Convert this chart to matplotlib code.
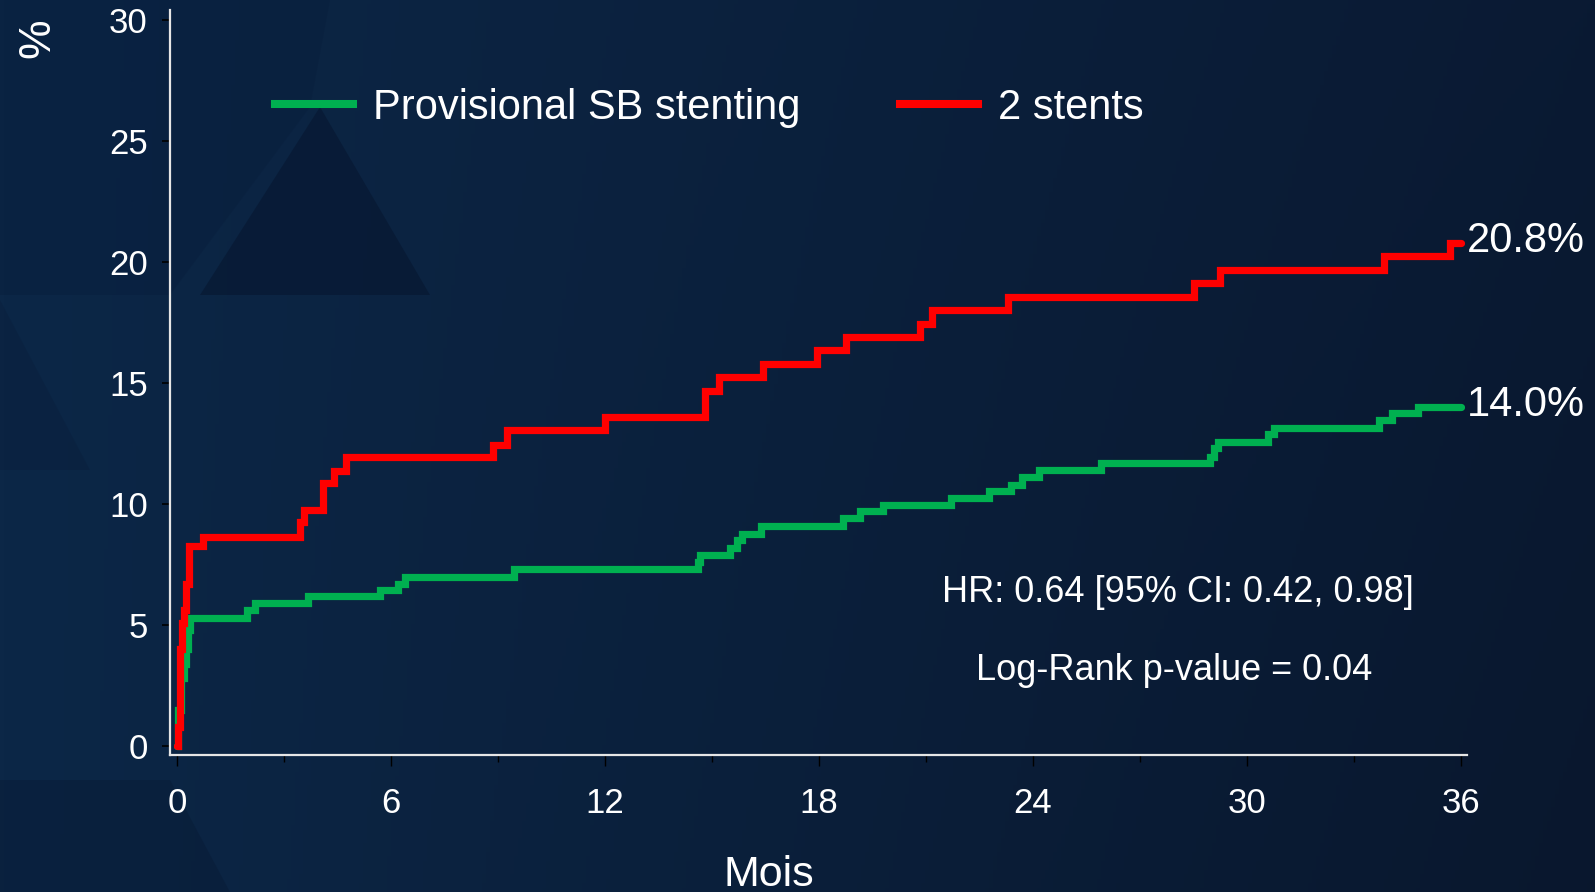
"""Cumulative incidence curves: provisional SB stenting vs 2 stents."""

import matplotlib

matplotlib.use("Agg")
import matplotlib.pyplot as plt
import numpy as np
from matplotlib.lines import Line2D
from matplotlib.patches import Polygon
from matplotlib.ticker import MultipleLocator

plt.rcParams["font.family"] = ["Liberation Sans", "DejaVu Sans"]

# step curves: month at which each level starts, cumulative incidence (%)
months_psb = [0, 0.03, 0.1, 0.2, 0.26, 0.31, 0.36, 1.95, 2.2, 3.68, 5.7, 6.2, 6.4,
              9.45, 14.6, 14.67, 15.5, 15.7, 15.84, 16.37, 18.67, 19.15, 19.8,
              21.7, 22.76, 23.38, 23.69, 24.16, 25.92, 28.97, 29.07, 29.2,
              30.59, 30.77, 33.69, 34.06, 34.8, 36]
pct_psb = [0, 1.5, 2.8, 3.4, 4.0, 4.8, 5.3, 5.6, 5.9, 6.2, 6.45, 6.7, 7.0,
           7.3, 7.6, 7.9, 8.2, 8.5, 8.75, 9.1, 9.4, 9.7, 9.95,
           10.25, 10.55, 10.8, 11.1, 11.4, 11.7, 11.95, 12.3, 12.57,
           12.9, 13.15, 13.45, 13.75, 14.0, 14.0]

months_2st = [0, 0.02, 0.08, 0.15, 0.2, 0.25, 0.35, 0.74, 3.45, 3.56, 4.1, 4.4,
              4.75, 8.86, 9.25, 12.0, 14.8, 15.2, 16.43, 17.94, 18.76, 20.83,
              21.17, 23.31, 28.51, 29.24, 33.85, 35.68, 36]
pct_2st = [0, 0.8, 4.0, 5.1, 5.6, 6.7, 8.25, 8.65, 9.25, 9.75, 10.85, 11.35,
           11.95, 12.45, 13.05, 13.6, 14.65, 15.25, 15.8, 16.35, 16.9, 17.45,
           18.0, 18.55, 19.15, 19.65, 20.25, 20.8, 20.8]

labels = ["Provisional SB stenting", "2 stents"]
colors = ["#00b050", "#ff0000"]
hr_text = "HR: 0.64 [95% CI: 0.42, 0.98]"
p_text = "Log-Rank p-value = 0.04"

W, H = 1595, 892
fig = plt.figure(figsize=(W / 100, H / 100), dpi=100)

# dark navy slide background with faint triangles
bg = fig.add_axes([0, 0, 1, 1], zorder=-10)
t = np.linspace(0, 1, 400)[None, :]
v = np.linspace(0, 1, 200)[:, None]
left = np.array([0x0c, 0x27, 0x47]) / 255
right = np.array([0x0a, 0x1a, 0x33]) / 255
img = left * (1 - t[..., None]) + right * t[..., None]
img = img * (1 - 0.10 * v[..., None] * t[..., None])
bg.imshow(img, extent=[0, 1, 0, 1], aspect="auto", origin="upper")
for pts, col, a in [
    ([(0, 0), (330, 0), (310, 107), (170, 295), (0, 295)], "#081c3a", 0.35),
    ([(200, 295), (430, 295), (320, 107)], "#06152e", 0.55),
    ([(0, 300), (90, 470), (0, 470)], "#0a1f3c", 0.45),
    ([(0, 780), (170, 780), (230, 892), (0, 892)], "#081a35", 0.45),
]:
    bg.add_patch(Polygon([(x / W, 1 - y / H) for x, y in pts], closed=True,
                         facecolor=col, edgecolor="none", alpha=a))
bg.set_xlim(0, 1)
bg.set_ylim(0, 1)
bg.axis("off")

ax = fig.add_axes([170 / W, 1 - 755 / H, (1467 - 170) / W, (755 - 10) / H])
ax.set_facecolor("none")

for m, p, c in [(months_psb, pct_psb, colors[0]), (months_2st, pct_2st, colors[1])]:
    ax.step(m, p, where="post", color=c, lw=5.2, solid_capstyle="round",
            solid_joinstyle="miter", zorder=3)
    ax.annotate(f"{p[-1]:.1f}%", xy=(m[-1], p[-1]), xytext=(4, 1.5),
                textcoords="offset points", va="center", ha="left",
                color="white", fontsize=30, annotation_clip=False)

ax.set_xlim(-0.196, 36.17)
ax.set_ylim(-0.372, 30.41)
ax.xaxis.set_major_locator(MultipleLocator(6))
ax.xaxis.set_minor_locator(MultipleLocator(3))
ax.yaxis.set_major_locator(MultipleLocator(5))

for s in ("top", "right"):
    ax.spines[s].set_visible(False)
for s in ("left", "bottom"):
    ax.spines[s].set_color("#e6e6e6")
    ax.spines[s].set_linewidth(1.6)

ax.tick_params(axis="x", which="major", length=8, width=1, color="black",
               labelcolor="white", labelsize=25, pad=15)
ax.tick_params(axis="x", which="minor", length=5, width=1, color="black")
ax.tick_params(axis="y", which="major", length=6, width=1.2, color="black",
               labelcolor="white", labelsize=25, pad=10)

handles = [Line2D([], [], color=c, lw=5.8) for c in colors]
fig.legend(handles, labels, loc="center left", bbox_to_anchor=(275 / W, 1 - 108 / H),
           ncol=2, frameon=False, fontsize=30, labelcolor="white",
           handlelength=1.87, handletextpad=0.48, columnspacing=2.4,
           borderpad=0, borderaxespad=0)

fig.text(1178 / W, 1 - 592 / H, hr_text, color="white", fontsize=26,
         ha="center", va="center")
fig.text(1174 / W, 1 - 671 / H, p_text, color="white", fontsize=26,
         ha="center", va="center")
fig.text(769 / W, 1 - 886 / H, "Mois", color="white", fontsize=31,
         ha="center", va="baseline")
fig.text(38 / W, 1 - 38 / H, "%", color="white", fontsize=32, rotation=90,
         ha="center", va="center")

fig.savefig("out.png", dpi=100, facecolor="#0c2342")
plt.close(fig)
